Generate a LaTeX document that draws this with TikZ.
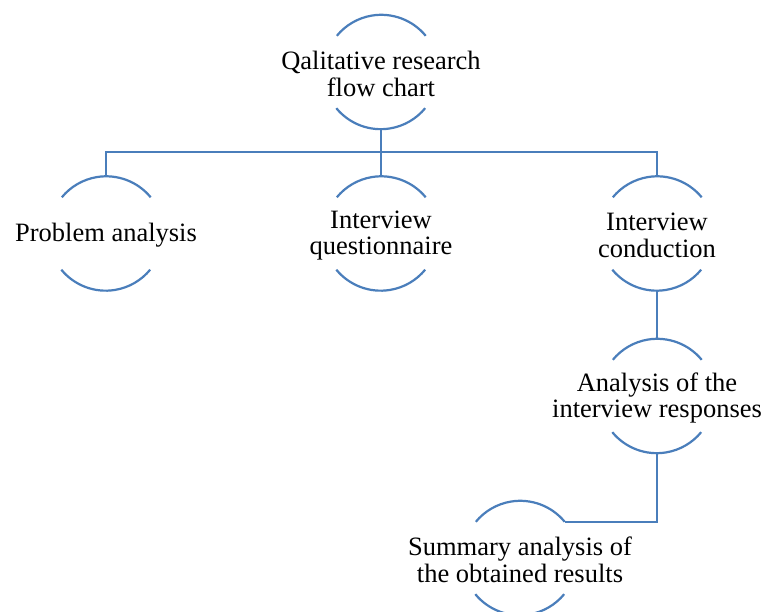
\documentclass[tikz,border=0pt]{standalone}
\usepackage{fontspec}
\setmainfont{Liberation Serif}
\definecolor{lineblue}{RGB}{74,126,187}
\begin{document}
\begin{tikzpicture}[x=1pt,y=1pt,
  ring/.style={circle,minimum size=115pt,inner sep=0pt,outer sep=0pt},
  lbl/.style={align=center,inner sep=0pt,font=\fontsize{26.5}{26.5}\selectfont},
  conn/.style={draw=lineblue,line width=2.2pt},
  arcline/.style={draw=lineblue,line width=2.2pt}]
\useasboundingbox (0,0) rectangle (765,612);
\fill[white] (0,0) rectangle (765,612);
% circles
\node[ring] (top) at (381,540) {};
\node[ring] (pa) at (106,378.5) {};
\node[ring] (iq) at (381,378.5) {};
\node[ring] (ic) at (657,378.5) {};
\node[ring] (ar) at (657,216) {};
\node[ring] (sa) at (520,54) {};
\foreach \n in {top,pa,iq,ic,ar,sa}{
  \draw[arcline] (\n.39.4) arc[start angle=39.4,end angle=140.6,radius=57.5pt];
  \draw[arcline] (\n.219.4) arc[start angle=219.4,end angle=320.6,radius=57.5pt];
}
% labels
\node[lbl] (ttop) at ([yshift=-2pt]top.center) {Qalitative research\\flow chart};
\node[lbl] (tpa) at ([yshift=-2pt]pa.center) {Problem analysis};
\node[lbl] (tiq) at ([yshift=-2pt]iq.center) {Interview\\questionnaire};
\node[lbl] (tic) at ([yshift=-2pt]ic.center) {Interview\\conduction};
\node[lbl] (tar) at ([yshift=-2pt]ar.center) {Analysis of the\\interview responses};
\node[lbl] (tsa) at ([yshift=-2pt]sa.center) {Summary analysis of\\the obtained results};
% connectors
\coordinate (busL) at (106,460);
\coordinate (busR) at (657,460);
\draw[conn] (pa.north) -- (busL) -- (busR) -- (ic.north);
\draw[conn] (top.south) -- (iq.north);
\draw[conn] (ic.south) -- (ar.north);
\draw[conn] (ar.south) |- (sa.39.4);
\end{tikzpicture}
\end{document}
